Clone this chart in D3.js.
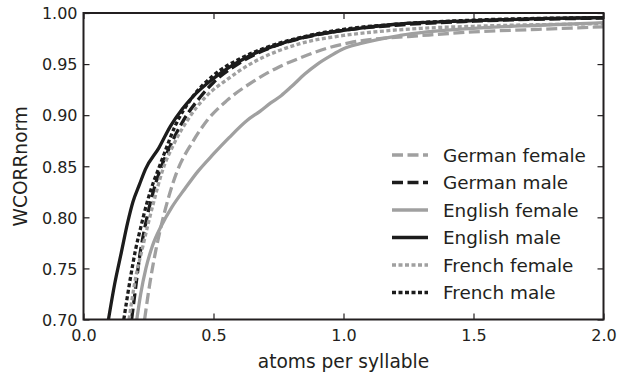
<!DOCTYPE html>
<html>
<head>
<meta charset="utf-8">
<script src="https://cdn.jsdelivr.net/npm/d3@7"></script>
<style>
  html, body { margin: 0; padding: 0; background: #fff; }
  svg { display: block; font-family: "DejaVu Sans", sans-serif; }
</style>
</head>
<body>
<svg id="chart" width="634" height="376"></svg>
<script>
// ---- data ----
const seriesNames = ["German female", "German male", "English female", "English male", "French female", "French male"];
const xTicks = [0.0, 0.5, 1.0, 1.5, 2.0];
const yTicks = [0.70, 0.75, 0.80, 0.85, 0.90, 0.95, 1.00];
const xLabel = "atoms per syllable";
const yLabel = "WCORRnorm";

const germanFemale = [[0.235,0.70],[0.255,0.735],[0.276,0.765],[0.30,0.793],[0.33,0.822],[0.36,0.845],[0.42,0.874],[0.476,0.895],[0.55,0.914],[0.653,0.933],[0.75,0.947],[0.833,0.956],[0.93,0.965],[1.025,0.971],[1.14,0.975],[1.25,0.977],[1.5,0.9815],[1.75,0.984],[2.0,0.9865]];
const germanMale = [[0.185,0.70],[0.2,0.73],[0.215,0.76],[0.24,0.795],[0.265,0.822],[0.29,0.843],[0.33,0.868],[0.38,0.893],[0.45,0.918],[0.5,0.932],[0.6,0.951],[0.7,0.964],[0.85,0.976],[1.0,0.983],[1.2,0.988],[1.5,0.992],[2.0,0.995]];
const englishFemale = [[0.205,0.70],[0.22,0.725],[0.24,0.75],[0.265,0.772],[0.30,0.792],[0.34,0.81],[0.39,0.828],[0.44,0.845],[0.5,0.862],[0.56,0.878],[0.63,0.895],[0.68,0.904],[0.72,0.912],[0.76,0.919],[0.80,0.928],[0.85,0.940],[0.9,0.950],[0.95,0.958],[1.0,0.965],[1.063,0.970],[1.217,0.978],[1.5,0.985],[1.75,0.988],[2.0,0.9905]];
const englishMale = [[0.096,0.70],[0.12,0.735],[0.145,0.765],[0.17,0.795],[0.19,0.815],[0.215,0.832],[0.238,0.847],[0.29,0.868],[0.334,0.889],[0.38,0.906],[0.42,0.918],[0.5,0.936],[0.63,0.957],[0.76,0.970],[0.9,0.979],[1.0,0.983],[1.2,0.989],[1.5,0.9925],[1.75,0.9945],[2.0,0.9955]];
const frenchFemale = [[0.175,0.70],[0.2,0.74],[0.225,0.768],[0.25,0.795],[0.27,0.815],[0.303,0.845],[0.35,0.873],[0.40,0.895],[0.47,0.918],[0.553,0.935],[0.641,0.950],[0.75,0.963],[0.833,0.970],[1.0,0.978],[1.14,0.982],[1.3,0.985],[1.5,0.987],[2.0,0.9895]];
const frenchMale = [[0.155,0.70],[0.18,0.74],[0.2,0.768],[0.22,0.79],[0.245,0.815],[0.27,0.835],[0.288,0.847],[0.31,0.862],[0.35,0.888],[0.42,0.918],[0.5,0.939],[0.6,0.955],[0.7,0.966],[0.85,0.977],[1.0,0.984],[1.2,0.989],[1.5,0.993],[2.0,0.9955]];

const seriesData = [germanFemale, germanMale, englishFemale, englishMale, frenchFemale, frenchMale];
const seriesColors = ["#a0a0a0", "#1c1c1c", "#a0a0a0", "#1c1c1c", "#a0a0a0", "#1c1c1c"];
const seriesDash = ["11,4.5", "11,4.5", null, null, "4,2.5", "4,2.5"];

// ---- layout ----
const svg = d3.select("#chart");
const L = 83.5, R = 603.5, T = 13, B = 319.5;
const ink = "#231f20";

const x = d3.scaleLinear().domain([0, 2]).range([L, R]);
const y = d3.scaleLinear().domain([0.70, 1.00]).range([B, T]);

svg.append("defs").append("clipPath").attr("id", "clip")
  .append("rect").attr("x", L).attr("y", T).attr("width", R - L).attr("height", B - T);

// lines
const line = d3.line().x(d => x(d[0])).y(d => y(d[1])).curve(d3.curveMonotoneX);
const plot = svg.append("g").attr("clip-path", "url(#clip)");
seriesData.forEach((data, i) => {
  plot.append("path")
    .datum(data)
    .attr("d", line)
    .attr("fill", "none")
    .attr("stroke", seriesColors[i])
    .attr("stroke-width", 3.3)
    .attr("stroke-dasharray", seriesDash[i])
    .attr("stroke-linejoin", "round");
});

// axes with inward ticks on all four sides
const fmtX = d3.format(".1f"), fmtY = d3.format(".2f");
const tickLen = 6;
const axB = svg.append("g").attr("transform", `translate(0,${B})`)
  .call(d3.axisBottom(x).tickValues(xTicks).tickFormat(fmtX).tickSizeInner(-tickLen).tickSizeOuter(0).tickPadding(14));
const axT = svg.append("g").attr("transform", `translate(0,${T})`)
  .call(d3.axisTop(x).tickValues(xTicks).tickFormat("").tickSizeInner(-tickLen).tickSizeOuter(0));
const axL = svg.append("g").attr("transform", `translate(${L},0)`)
  .call(d3.axisLeft(y).tickValues(yTicks).tickFormat(fmtY).tickSizeInner(-tickLen).tickSizeOuter(0).tickPadding(6));
const axR = svg.append("g").attr("transform", `translate(${R},0)`)
  .call(d3.axisRight(y).tickValues(yTicks).tickFormat("").tickSizeInner(-tickLen).tickSizeOuter(0));

[axB, axT, axL, axR].forEach(a => {
  a.select(".domain").remove();
  a.selectAll(".tick line").attr("stroke", ink).attr("stroke-width", 1.2);
  a.selectAll(".tick text").attr("fill", ink).style("font-size", "16px").style("font-family", "DejaVu Sans");
});
axB.selectAll(".tick text").attr("dy", null).attr("y", null).attr("transform", "translate(0,21)");
axL.selectAll(".tick text").attr("dy", "0.36em");

// frame
svg.append("rect").attr("x", L).attr("y", T).attr("width", R - L).attr("height", B - T)
  .attr("fill", "none").attr("stroke", ink).attr("stroke-width", 2);

// axis labels
svg.append("text").attr("x", (L + R) / 2).attr("y", 368).attr("text-anchor", "middle")
  .attr("fill", ink).style("font-size", "18.6px").text(xLabel);
svg.append("text").attr("transform", `translate(27,${(T + B) / 2}) rotate(-90)`).attr("text-anchor", "middle")
  .attr("fill", ink).style("font-size", "18.6px").text(yLabel);

// legend
const legY0 = 155, legStep = 27.5;
const leg = svg.append("g");
seriesNames.forEach((name, i) => {
  const yy = legY0 + i * legStep;
  leg.append("line").attr("x1", 392).attr("x2", 428).attr("y1", yy).attr("y2", yy)
    .attr("stroke", seriesColors[i]).attr("stroke-width", 3.6)
    .attr("stroke-dasharray", seriesDash[i]);
  leg.append("text").attr("x", 443).attr("y", yy).attr("dy", "0.36em")
    .attr("fill", ink).style("font-size", "18.4px").text(name);
});
</script>
</body>
</html>
